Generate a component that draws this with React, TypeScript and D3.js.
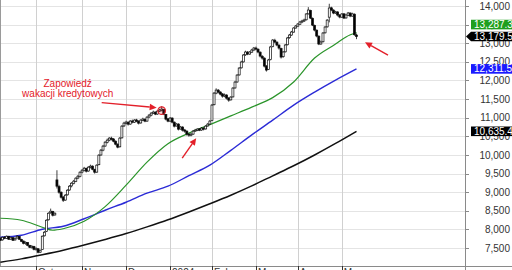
import React from 'react';
import * as d3 from 'd3';

const W = 512;
const H = 270;

// Daily OHLC, WIG-Banki-like index, Sep 2023 – May 2024 (one entry per trading day)
const opens = [7760,7720,7790,7760,7810,7740,7780,7720,7770,7810,
7730,7690,7620,7650,7570,7510,7540,7460,7480,7390,
7460,7830,7950,8260,8450,8480,8390,9330,9150,9000,
8870,8790,8930,9060,9170,9240,9290,9380,9420,9540,
9580,9640,9570,9670,9700,9610,9540,9740,10000,10130,
10240,10340,10400,10450,10430,10370,10290,10220,10460,10780,
10850,10880,10830,10910,10880,10940,10910,10860,10930,10960,
10910,11020,11070,11120,11150,11100,11170,11200,11220,11090,
10970,10910,10990,10880,10780,10830,10700,10750,10670,10640,
10560,10530,10560,10640,10660,10700,10670,10720,10700,10780,
10830,10930,11350,11660,11740,11690,11640,11580,11610,11530,
11480,11560,11800,11960,12150,12340,12500,12690,12760,12710,
12760,12820,12870,12840,12760,12650,12600,12390,12300,12560,
12910,13080,13030,12950,12860,12640,12770,12960,13150,13220,
13300,13410,13460,13510,13570,13600,13630,13790,13880,13670,
13480,13350,13190,12980,13040,13280,13440,13700,13950,13890,
13810,13840,13760,13700,13790,13680,13750,13810,13730,13780,
13220];
const highs = [7790,7810,7820,7840,7830,7800,7790,7780,7850,7820,
7750,7700,7680,7660,7590,7580,7560,7520,7500,7460,
7840,7960,8270,8460,8560,8500,8460,9590,9200,9020,
8900,8950,9080,9190,9270,9330,9400,9460,9560,9620,
9680,9660,9700,9740,9720,9630,9750,10020,10160,10270,
10370,10440,10480,10490,10450,10390,10310,10480,10800,10890,
10920,10900,10940,10950,10960,10970,10930,10960,11000,10980,
11040,11100,11150,11190,11170,11200,11240,11310,11240,11100,
10990,11020,11010,10900,10860,10850,10780,10770,10700,10660,
10590,10590,10670,10700,10720,10720,10750,10740,10800,10860,
10940,11370,11690,11790,11770,11710,11660,11650,11630,11550,
11580,11820,11990,12170,12360,12530,12710,12800,12790,12790,
12850,12900,12910,12860,12780,12680,12620,12410,12580,12930,
13110,13120,13050,12970,12880,12790,12980,13170,13250,13330,
13430,13490,13540,13600,13630,13660,13810,13970,13900,13690,
13500,13370,13210,13070,13300,13460,13650,14060,13980,13910,
13870,13860,13780,13810,13800,13790,13840,13830,13820,13800,
13260];
const lows = [7690,7700,7740,7750,7720,7720,7690,7700,7760,7720,
7660,7600,7590,7550,7500,7490,7440,7430,7360,7370,
7450,7810,7930,8240,8420,8350,8370,9100,8960,8830,
8740,8770,8910,9040,9130,9210,9270,9350,9400,9510,
9560,9530,9550,9640,9590,9500,9520,9720,9980,10100,
10220,10310,10370,10390,10340,10260,10180,10200,10440,10750,
10820,10790,10810,10850,10860,10880,10820,10840,10910,10880,
10890,10990,11040,11100,11070,11080,11150,11170,11070,10930,
10880,10890,10850,10740,10760,10660,10680,10630,10600,10520,
10490,10500,10540,10620,10640,10640,10650,10660,10680,10760,
10810,10920,11330,11630,11650,11600,11540,11550,11490,11430,
11460,11540,11780,11940,12130,12320,12480,12660,12680,12690,
12740,12790,12810,12730,12620,12560,12350,12240,12280,12540,
12890,13000,12920,12830,12590,12610,12750,12940,13120,13200,
13280,13390,13440,13490,13540,13570,13610,13770,13650,13460,
13320,13160,12950,12960,13020,13260,13420,13560,13860,13780,
13790,13720,13670,13680,13650,13660,13730,13700,13710,13200,
13110];
const closes = [7710,7790,7764,7818,7737,7790,7710,7764,7818,7737,
7683,7630,7656,7576,7522,7549,7468,7495,7388,7441,
7818,7925,8248,8436,8490,8382,8436,9162,9000,8866,
8785,8920,9054,9162,9242,9296,9377,9430,9538,9592,
9645,9565,9672,9699,9618,9538,9726,9995,10129,10237,
10344,10398,10452,10425,10371,10291,10210,10452,10774,10855,
10882,10828,10909,10882,10936,10909,10855,10936,10963,10909,
11016,11070,11124,11151,11097,11178,11204,11231,11097,10963,
10909,10990,10882,10774,10828,10694,10747,10667,10640,10559,
10532,10559,10640,10667,10694,10667,10720,10694,10774,10828,
10909,11339,11661,11742,11688,11634,11581,11608,11527,11473,
11554,11796,11957,12145,12333,12495,12683,12764,12710,12764,
12817,12871,12844,12764,12656,12602,12387,12280,12550,12900,
13086,13032,12952,12871,12629,12764,12952,13140,13220,13301,
13409,13462,13516,13570,13597,13624,13785,13892,13677,13489,
13355,13194,12979,13032,13274,13435,13620,13946,13892,13812,
13838,13758,13704,13785,13677,13758,13812,13731,13785,13230,
13179.5];

// Month tick labels and the bar index where each month starts
const monthLabels = ['Oct', 'Nov', 'Dec', '2024', 'Feb', 'Mar', 'Apr', 'May'];
const monthStarts = [17, 39, 60, 81, 101, 122, 142, 163];

// Y-axis ticks
const yTicks = [7500, 8000, 8500, 9000, 9500, 10000, 10500, 11000, 11500, 12000, 12500, 13000, 13500, 14000];

// Moving averages (read at selected bar indices)
const greenIdx = [0, 10, 20, 25, 30, 40, 50, 60, 70, 80, 90, 100, 110, 120, 130, 140, 150, 160, 165, 170];
const greenMA = [8301, 8248, 8060, 7979, 8020, 8221, 8613, 9188, 9807, 10302, 10586, 10815, 11050, 11285, 11540, 11960, 12602, 12979, 13170, 13287.3];
const blueIdx = [0, 10, 20, 30, 40, 50, 60, 70, 80, 90, 100, 110, 120, 130, 140, 150, 160, 170];
const blueMA = [7791, 7844, 8006, 8086, 8288, 8516, 8731, 8973, 9162, 9443, 9726, 10124, 10540, 10936, 11339, 11688, 12011, 12311.5];
const blackIdx = [0, 10, 20, 30, 40, 50, 60, 70, 80, 90, 100, 110, 120, 130, 140, 150, 160, 170];
const blackMA = [7120, 7210, 7320, 7440, 7580, 7730, 7890, 8070, 8260, 8470, 8690, 8920, 9170, 9440, 9710, 10000, 10310, 10635.4];

const annotationText = ['Zapowiedź', 'wakacji kredytowych'];

const RED = '#e3202a';
const GREEN_LINE = '#2a942a';
const GREEN_BOX = '#1f9f1f';
const BLUE_LINE = '#2b2bd6';
const BLUE_BOX = '#1a1aff';

function Arrow({ x1, y1, x2, y2 }: { x1: number; y1: number; x2: number; y2: number }) {
  const ang = Math.atan2(y2 - y1, x2 - x1);
  const L = 7;
  const hw = 3.3;
  const bx = x2 - L * Math.cos(ang);
  const by = y2 - L * Math.sin(ang);
  const px = -Math.sin(ang) * hw;
  const py = Math.cos(ang) * hw;
  return (
    <g>
      <line x1={x1} y1={y1} x2={bx} y2={by} stroke={RED} strokeWidth={1.4} />
      <polygon points={`${x2},${y2} ${bx + px},${by + py} ${bx - px},${by - py}`} fill={RED} />
    </g>
  );
}

export default function App() {
  const plotRight = 465;
  const x = d3.scaleLinear().domain([0, 170]).range([0.385, 356.5]);
  const y = d3.scaleLinear().domain([7000, 14000]).range([266.7, 6]);
  const fmtTick = d3.format(',');
  const fmtVal = d3.format(',.1f');

  const mkLine = (idx: number[]) =>
    d3
      .line<number>()
      .x((_, k) => x(idx[k]))
      .y((d) => y(d))
      .curve(d3.curveMonotoneX);

  const last = closes.length - 1;
  const curVal = closes[last];
  const curY = y(curVal);
  const labels = [
    { v: greenMA[greenMA.length - 1], color: GREEN_BOX },
    { v: blueMA[blueMA.length - 1], color: BLUE_BOX },
    { v: blackMA[blackMA.length - 1], color: '#000' },
  ].map((l) => {
    let cy = y(l.v);
    if (Math.abs(cy - curY) < 12) cy = cy < curY ? curY - 12 : curY + 12;
    return { ...l, cy };
  });

  // annotation anchors
  const circIdx = 77;
  const cx0 = x(circIdx);
  const cy0 = y(closes[circIdx]) + 1.5;
  const a1 = { x1: cx0 - 60, y1: cy0 - 8, x2: cx0 - 5, y2: cy0 - 3 };
  const a2tipX = x(93) + 1;
  const a2tipY = y(10450);
  const a3tipX = x(170) + 8.5;
  const a3tipY = y(13030);

  const fontFam = '"Liberation Sans", Arial, sans-serif';

  return (
    <svg
      width={W}
      height={H}
      style={{ position: 'absolute', left: 0, top: 0, display: 'block', background: '#fff' }}
      fontFamily={fontFam}
    >
      <rect x={0} y={0} width={W} height={H} fill="#fff" />
      {/* horizontal grid */}
      {yTicks.map((t) => (
        <line key={'hg' + t} x1={0} x2={plotRight} y1={Math.round(y(t)) + 0.5} y2={Math.round(y(t)) + 0.5} stroke="#e4e4e4" strokeWidth={1} />
      ))}
      {/* vertical month grid */}
      {monthStarts.map((m, k) => (
        <line key={'vg' + k} x1={Math.round(x(m)) + 0.5} x2={Math.round(x(m)) + 0.5} y1={0} y2={270} stroke="#d0d0d0" strokeWidth={1} />
      ))}
      {/* left border */}
      <line x1={0.5} x2={0.5} y1={0} y2={267} stroke="#9a9a9a" strokeWidth={1} />

      {/* moving averages */}
      <path d={mkLine(blackIdx)(blackMA) || ''} fill="none" stroke="#111" strokeWidth={1.5} />
      <path d={mkLine(blueIdx)(blueMA) || ''} fill="none" stroke={BLUE_LINE} strokeWidth={1.4} />
      <path d={mkLine(greenIdx)(greenMA) || ''} fill="none" stroke={GREEN_LINE} strokeWidth={1.2} />

      {/* candles */}
      <g>
        {closes.map((c, i) => {
          const o = opens[i];
          const cx = x(i);
          const top = y(Math.max(o, c));
          const bot = y(Math.min(o, c));
          const up = c >= o;
          return (
            <g key={'c' + i}>
              <line x1={cx} x2={cx} y1={y(highs[i])} y2={y(lows[i])} stroke="#111" strokeWidth={0.8} />
              <rect
                x={cx - 1}
                y={top}
                width={2}
                height={Math.max(1, bot - top)}
                fill={up ? '#fff' : '#000'}
                stroke="#111"
                strokeWidth={0.7}
              />
            </g>
          );
        })}
      </g>

      {/* axes */}
      <line x1={Math.round(plotRight) + 0.5} x2={Math.round(plotRight) + 0.5} y1={0} y2={270} stroke="#8a8a8a" strokeWidth={1} />
      <line x1={0} x2={W} y1={266.5} y2={266.5} stroke="#8a8a8a" strokeWidth={1} />
      {yTicks.map((t) => (
        <g key={'yt' + t}>
          <line x1={plotRight + 1} x2={plotRight + 4} y1={Math.round(y(t)) + 0.5} y2={Math.round(y(t)) + 0.5} stroke="#8a8a8a" />
          <text x={510} y={y(t) + 3.6} fontSize={10} textAnchor="end" fill="#333">
            {fmtTick(t)}
          </text>
        </g>
      ))}
      {monthStarts.map((m, k) => (
        <g key={'mt' + k}>
          <line x1={Math.round(x(m)) + 0.5} x2={Math.round(x(m)) + 0.5} y1={266} y2={270} stroke="#333" />
          <text x={x(m) + 2} y={275.6} fontSize={10} fill="#333">
            {monthLabels[k]}
          </text>
        </g>
      ))}

      {/* value labels */}
      {labels.map((l, k) => (
        <g key={'vl' + k}>
          <rect x={471} y={l.cy - 4.8} width={45} height={9.6} fill={l.color} />
          <text x={474} y={l.cy + 3.6} fontSize={10} fill="#fff">
            {fmtVal(l.v)}
          </text>
        </g>
      ))}
      <g>
        <polygon
          points={`466,${curY} 471,${curY - 4.8} 516,${curY - 4.8} 516,${curY + 4.8} 471,${curY + 4.8}`}
          fill="#000"
        />
        <text x={474} y={curY + 3.6} fontSize={10} fill="#fff">
          {fmtVal(curVal)}
        </text>
      </g>

      {/* annotations */}
      <circle cx={cx0} cy={cy0} r={3.8} fill="rgba(227,32,42,0.18)" stroke={RED} strokeWidth={1.2} />
      <Arrow {...a1} />
      <text x={a1.x1 - 34} y={a1.y1 - 15.5} fontSize={10} fill={RED} textAnchor="middle">
        {annotationText[0]}
      </text>
      <text x={a1.x1 - 34} y={a1.y1 - 5.5} fontSize={10} fill={RED} textAnchor="middle">
        {annotationText[1]}
      </text>
      <Arrow x1={a2tipX - 14} y1={a2tipY + 20} x2={a2tipX} y2={a2tipY} />
      <Arrow x1={a3tipX + 23} y1={a3tipY + 13} x2={a3tipX} y2={a3tipY} />
    </svg>
  );
}
